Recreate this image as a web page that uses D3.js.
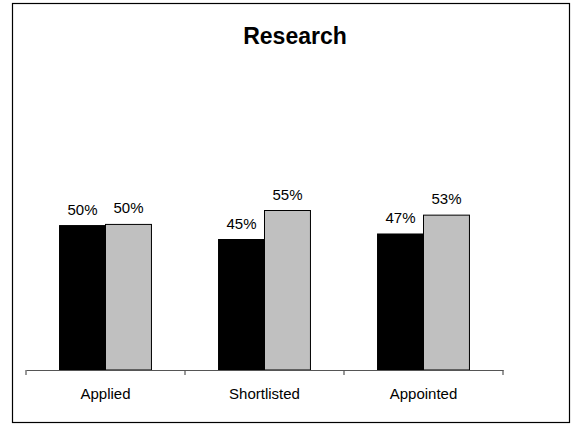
<!DOCTYPE html>
<html>
<head>
<meta charset="utf-8">
<script src="https://cdn.jsdelivr.net/npm/d3@7"></script>
<style>
  body { margin: 0; background: #fff; }
  text { font-family: "Liberation Sans", Arial, sans-serif; fill: #000; }
</style>
</head>
<body>
<svg id="ResearchVis" width="574" height="424"></svg>
<script>
/* DATA */
const categories = ["Applied", "Shortlisted", "Appointed"];
const seriesNames = ["Series 1", "Series 2"];
const series1 = [0.498, 0.45, 0.469];
const series2 = [0.502, 0.55, 0.534];
const barLabels = [["50%", "50%"], ["45%", "55%"], ["47%", "53%"]];

const width = 574;
const height = 424;

const margin = { top: 80, bottom: 54, left: 26, right: 71 };

let svg = d3.select("body").select("svg#ResearchVis");

// outer frame
svg.append("rect")
  .attr("x", 12.5)
  .attr("y", 3.5)
  .attr("width", 557)
  .attr("height", 419)
  .attr("fill", "none")
  .attr("stroke", "#000")
  .attr("stroke-width", 1.2);

/* SCALES */
const scales = {
  x: d3.scaleBand().domain(categories).range([margin.left, width - margin.right]),
  y: d3.scaleLinear().domain([0, 1]).range([height - margin.bottom, margin.top])
};
scales.inner = d3.scaleBand()
  .domain(seriesNames)
  .range([0, scales.x.bandwidth()])
  .paddingInner(0)
  .paddingOuter(0.73);

const colors = { "Series 1": "#000000", "Series 2": "#c0c0c0" };

/* TITLE */
svg.append("text")
  .attr("x", 295)
  .attr("y", 44)
  .attr("text-anchor", "middle")
  .style("font-size", "23px")
  .style("font-weight", "bold")
  .text("Research");

/* BARS */
let rows = categories.map((c, i) => ({
  category: c,
  values: [
    { name: seriesNames[0], value: series1[i], label: barLabels[i][0] },
    { name: seriesNames[1], value: series2[i], label: barLabels[i][1] }
  ]
}));

let groups = svg.selectAll("g.group")
  .data(rows)
  .enter()
  .append("g")
  .attr("class", "group")
  .attr("transform", d => translate(scales.x(d.category), 0));

groups.selectAll("rect")
  .data(d => d.values)
  .enter()
  .append("rect")
  .attr("x", d => scales.inner(d.name))
  .attr("y", d => scales.y(d.value))
  .attr("width", scales.inner.bandwidth())
  .attr("height", d => scales.y(0) - scales.y(d.value))
  .attr("fill", d => colors[d.name])
  .attr("stroke", "#000")
  .attr("stroke-width", 1);

groups.selectAll("text.label")
  .data(d => d.values)
  .enter()
  .append("text")
  .attr("class", "label")
  .attr("x", d => scales.inner(d.name) + scales.inner.bandwidth() / 2)
  .attr("y", d => scales.y(d.value) - 11)
  .attr("text-anchor", "middle")
  .style("font-size", "15px")
  .text(d => d.label);

/* AXIS */
let xAxis = d3.axisBottom(scales.x)
  .tickSize(0)
  .tickPadding(18)
  .tickSizeOuter(0);

let xGroup = svg.append("g")
  .attr("transform", translate(0, scales.y(0)))
  .call(xAxis);

xGroup.select(".domain").attr("stroke", "#555").attr("stroke-width", 1.2);
xGroup.selectAll("text").style("font-size", "15px").style("font-family", "'Liberation Sans', Arial, sans-serif");

// category boundary ticks
let edges = categories.map(c => scales.x(c)).concat([scales.x.range()[1]]);
xGroup.selectAll("line.edge")
  .data(edges)
  .enter()
  .append("line")
  .attr("class", "edge")
  .attr("x1", d => d)
  .attr("x2", d => d)
  .attr("y1", 0)
  .attr("y2", 5)
  .attr("stroke", "#555")
  .attr("stroke-width", 1.2);

function translate(x, y) {
  return 'translate(' + String(x) + ',' + String(y) + ')';
}
</script>
</body>
</html>
